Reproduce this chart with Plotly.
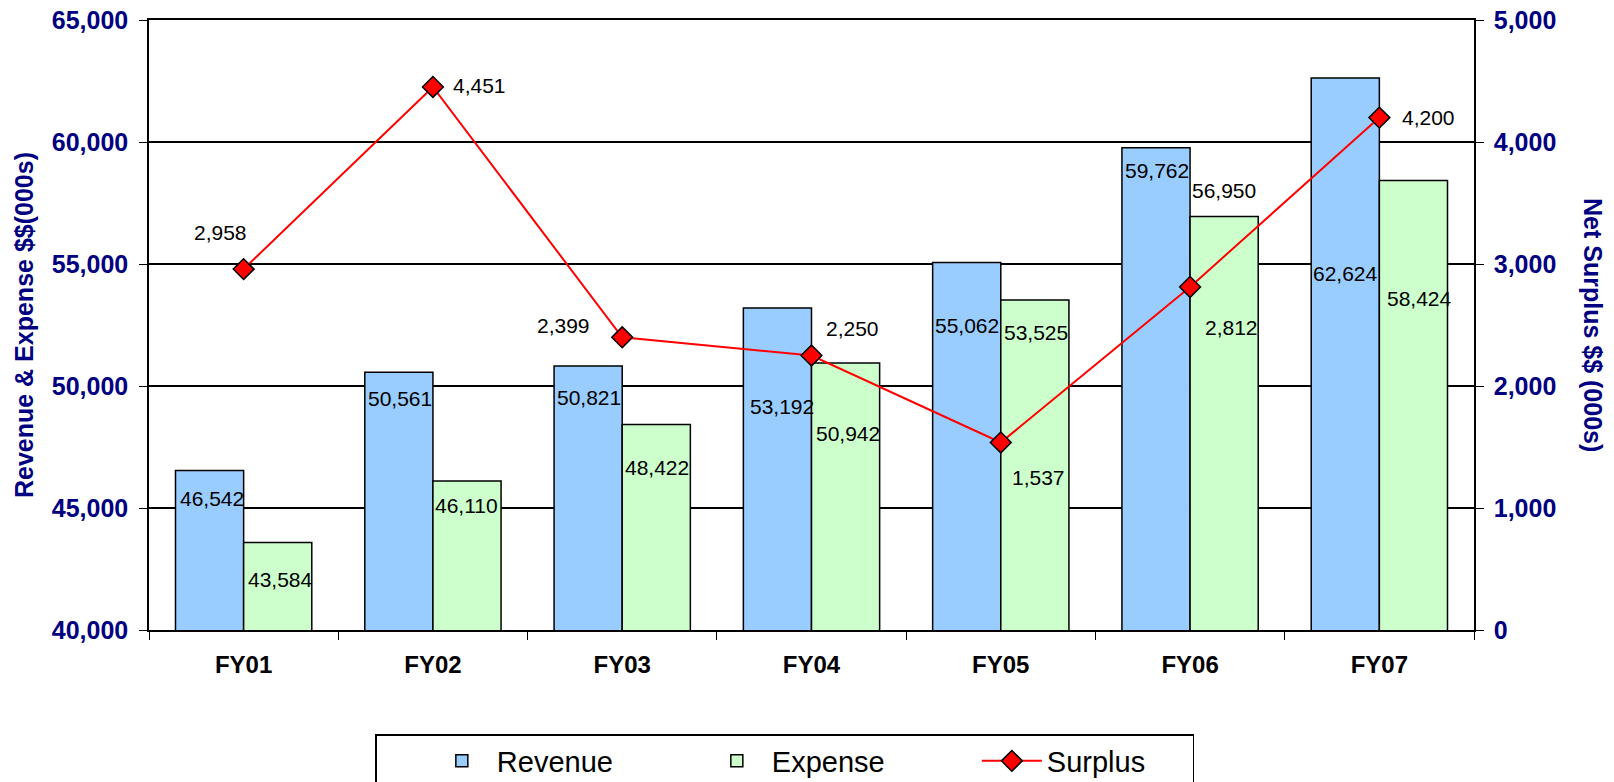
import plotly.graph_objects as go

YEARS = ["FY01", "FY02", "FY03", "FY04", "FY05", "FY06", "FY07"]
REVENUE = [46542, 50561, 50821, 53192, 55062, 59762, 62624]
EXPENSE = [43584, 46110, 48422, 50942, 53525, 56950, 58424]
SURPLUS = [2958, 4451, 2399, 2250, 1537, 2812, 4200]

REVENUE_COLOR = "#99ccff"
EXPENSE_COLOR = "#ccffcc"
SURPLUS_COLOR = "#ff0000"
AXIS_TEXT = "#000080"
FONT = "Liberation Sans, Arial, sans-serif"

# labels were dragged around by hand in the original sheet: (dx, dy) in px, dy downwards
REVENUE_NUDGE = [(2, 28), (1, 26), (1, 32), (4, 98), (0, 63), (1, 23), (0, 196)]
EXPENSE_NUDGE = [(3, 37), (0, 25), (1, 43), (2, 70), (1, 33), (0, -26), (6, 118)]
SURPLUS_NUDGE = [(-23, -37), (47, -1), (-59, -12), (41, -27), (38, 35), (41, 41), (49, 0)]
BAR_HALF = 34


def _labels(values, nudges, yref, xoff):
    out = []
    for year, val, (dx, dy) in zip(YEARS, values, nudges):
        out.append(dict(
            x=year, y=val, xref="x", yref=yref,
            text=f"{val:,}", showarrow=False,
            xshift=xoff + dx, yshift=-dy,
            font=dict(family=FONT, size=21, color="black"),
        ))
    return out


fig = go.Figure()

fig.add_trace(go.Bar(
    x=YEARS, y=REVENUE, name="Revenue", legendwidth=200,
    marker=dict(color=REVENUE_COLOR, line=dict(color="black", width=1.5)),
))
fig.add_trace(go.Bar(
    x=YEARS, y=EXPENSE, name="Expense", legendwidth=200,
    marker=dict(color=EXPENSE_COLOR, line=dict(color="black", width=1.5)),
))
fig.add_trace(go.Scatter(
    x=YEARS, y=SURPLUS, name="Surplus", yaxis="y2", legendwidth=140,
    mode="lines+markers",
    line=dict(color=SURPLUS_COLOR, width=2),
    marker=dict(symbol="diamond", size=16, color=SURPLUS_COLOR,
                line=dict(color="black", width=1.5)),
))

annotations = (
    _labels(REVENUE, REVENUE_NUDGE, "y", -BAR_HALF)
    + _labels(EXPENSE, EXPENSE_NUDGE, "y", BAR_HALF)
    + _labels(SURPLUS, SURPLUS_NUDGE, "y2", 0)
)
annotations.append(dict(
    text="Revenue & Expense $$(000s)", xref="paper", yref="paper",
    x=-0.0943, y=0.5, xanchor="center", yanchor="middle",
    textangle=-90, showarrow=False,
    font=dict(family=FONT, size=25, color=AXIS_TEXT, weight="bold"),
))
annotations.append(dict(
    text="Net Surplus $$ (000s)", xref="paper", yref="paper",
    x=1.0898, y=0.5, xanchor="center", yanchor="middle",
    textangle=90, showarrow=False,
    font=dict(family=FONT, size=25, color=AXIS_TEXT, weight="bold"),
))

fig.update_layout(
    width=1614,
    height=782,
    # page body adds 8px on top/left, so the plot box is pulled back by that much
    margin=dict(l=141, r=148, t=12, b=160, autoexpand=False),
    paper_bgcolor="white",
    plot_bgcolor="white",
    barmode="group",
    bargap=0.28,
    bargroupgap=0,
    font=dict(family=FONT, color="black"),
    xaxis=dict(
        type="category",
        showline=True, linecolor="black", linewidth=1.5, mirror=True,
        ticks="outside", tickson="boundaries", ticklen=8, tickcolor="black",
        tickfont=dict(family=FONT, size=24, color="black", weight="bold"),
        ticklabelstandoff=12,
        showgrid=False,
    ),
    yaxis=dict(
        range=[40000, 65000], dtick=5000, tickformat=",",
        showline=True, linecolor="black", linewidth=1.5,
        showgrid=True, gridcolor="black", gridwidth=1.5,
        zeroline=False,
        ticks="outside", ticklen=8, tickcolor="black",
        tickfont=dict(family=FONT, size=25, color=AXIS_TEXT, weight="bold"),
        ticklabelstandoff=6, ticklabeloverflow="allow",
    ),
    yaxis2=dict(
        range=[0, 5000], dtick=1000, tickformat=",",
        overlaying="y", side="right",
        showline=True, linecolor="black", linewidth=1.5,
        showgrid=False, zeroline=False,
        ticks="outside", ticklen=8, tickcolor="black",
        tickfont=dict(family=FONT, size=25, color=AXIS_TEXT, weight="bold"),
        ticklabelstandoff=5, ticklabeloverflow="allow",
    ),
    legend=dict(
        orientation="h",
        x=0.1706, y=-0.1705, xanchor="left", yanchor="top",
        bordercolor="black", borderwidth=1.5, bgcolor="white",
        font=dict(family=FONT, size=29, color="black"),
        title=dict(text="\u00a0" * 5, side="left", font=dict(size=29)),
        itemwidth=60,
        traceorder="normal",
    ),
    annotations=annotations,
    showlegend=True,
)

fig.write_html("out.html")
